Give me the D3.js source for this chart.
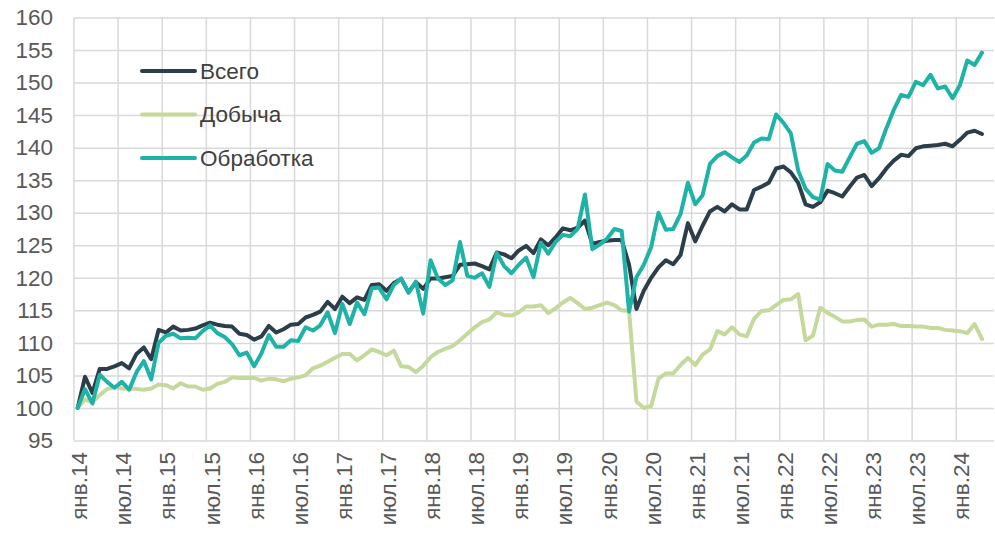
<!DOCTYPE html>
<html>
<head>
<meta charset="utf-8">
<script src="https://cdn.jsdelivr.net/npm/d3@7"></script>
<style>
  body { margin: 0; background: #fff; }
  text { font-family: "Liberation Sans", Arial, sans-serif; }
</style>
</head>
<body>
<div id="chart"></div>
<script>
// month names used to build the category axis (янв.14 ... май.24)
const monthNames = ['янв', 'фев', 'мар', 'апр', 'май', 'июн', 'июл', 'авг', 'сен', 'окт', 'ноя', 'дек'];
const categories = [];
for (let yr = 14; yr <= 24; yr++) {
  monthNames.forEach(m => categories.push(m + '.' + yr));
}
categories.length = 125;

const tickLabels = ['янв.14', 'июл.14', 'янв.15', 'июл.15', 'янв.16', 'июл.16', 'янв.17', 'июл.17',
  'янв.18', 'июл.18', 'янв.19', 'июл.19', 'янв.20', 'июл.20', 'янв.21', 'июл.21', 'янв.22', 'июл.22',
  'янв.23', 'июл.23', 'янв.24'];
const yTicks = [95, 100, 105, 110, 115, 120, 125, 130, 135, 140, 145, 150, 155, 160];

const seriesNames = ['Всего', 'Добыча', 'Обработка'];

const total = [
  100, 104.8, 102.3, 106, 106, 106.4, 106.9, 106.1, 108.3, 109.3, 107.5, 112,
  111.6, 112.5, 111.9, 112, 112.2, 112.7, 113.1, 112.8, 112.6, 112.5, 111.4, 111.2,
  110.5, 111, 112.6, 111.6, 112.1, 112.8, 112.9, 113.9, 114.3, 114.8, 116.3, 115.2,
  117.1, 116.1, 117, 116.6, 118.9, 119, 118, 119.2, 119.8, 117.8, 119.3, 118.3,
  119.9, 119.9, 120.1, 120.3, 122, 122.1, 122.2, 121.8, 121.3, 123.9, 123.6, 123,
  124.2, 124.9, 123.8, 125.9, 125, 126.2, 127.6, 127.3, 127.7, 128.8, 125.2, 125.5,
  125.7, 125.8, 125.8, 122, 115.2, 118, 120, 121.6, 122.7, 122.1, 123.5, 128.4,
  125.6, 128, 130.2, 130.9, 130.2, 131.3, 130.5, 130.5, 133.5, 134, 134.6, 136.8,
  137.1, 136.2, 134.6, 131.3, 130.9, 131.6, 133.4, 133, 132.5, 134, 135.4, 135.8,
  134.1, 135.3, 136.8, 138, 138.9, 138.7, 139.9, 140.2, 140.3, 140.4, 140.6, 140.2,
  141.2, 142.3, 142.6, 142.1
];

const mining = [
  100, 101.3, 100.9, 102, 102.9, 103.2, 103, 103, 102.9, 102.8, 103, 103.6,
  103.5, 103, 103.8, 103.3, 103.3, 102.8, 103, 103.7, 104, 104.7, 104.6, 104.6,
  104.6, 104.2, 104.5, 104.4, 104.1, 104.5, 104.7, 105, 106.1, 106.5, 107.1, 107.7,
  108.3, 108.3, 107.3, 108.1, 109, 108.6, 108.1, 108.8, 106.4, 106.3, 105.5, 106.5,
  107.8, 108.6, 109.1, 109.5, 110.4, 111.4, 112.4, 113.2, 113.6, 114.7, 114.3, 114.2,
  114.7, 115.6, 115.6, 115.8, 114.6, 115.3, 116.2, 116.9, 116.1, 115.2, 115.4, 115.8,
  116.2, 115.8, 115, 114.9, 101, 100, 100.3, 104.5, 105.3, 105.3, 106.6, 107.7,
  106.6, 108.2, 109, 111.8, 111.3, 112.4, 111.3, 111, 113.7, 114.9, 115, 115.8,
  116.6, 116.7, 117.5, 110.4, 111.1, 115.4, 114.6, 114, 113.3, 113.3, 113.5, 113.6,
  112.5, 112.8, 112.8, 112.9, 112.6, 112.6, 112.5, 112.5, 112.3, 112.3, 112, 111.9,
  111.8, 111.5, 112.9, 110.6
];

const manufacturing = [
  100, 102.9, 100.7, 105.1, 104, 103.1, 104, 102.8, 105.5, 107.2, 104.4, 110,
  111.1, 111.4, 110.7, 110.8, 110.7, 111.8, 112.7, 111.5, 110.9, 109.8, 108.1, 108.5,
  106.4, 108.4, 111.2, 109.4, 109.4, 110.4, 110.3, 112.4, 111.9, 112.7, 114.7, 111.5,
  116, 112.9, 116.2, 114.4, 118.4, 118.5, 116.7, 118.9, 119.9, 117.7, 119.4, 114.5,
  122.7, 119.9, 118.9, 119.6, 125.5, 120.3, 120, 120.7, 118.6, 123.8, 121.8, 120.7,
  122, 123.1, 120.1, 125.4, 123.7, 125.5, 126.6, 126.4, 127.5, 132.8, 124.4, 125.1,
  126, 127.5, 127.2, 114.8, 120.1, 122, 124.7, 130, 127.4, 127.5, 129.8, 134.6,
  131.3, 132.7, 137.5, 138.7, 139.3, 138.5, 137.8, 138.8, 140.8, 141.4, 141.3, 145.1,
  143.8, 142.2, 136.5, 133.7, 132.4, 132, 137.5, 136.5, 136.3, 138.5, 140.6, 141,
  139.2, 139.9, 143, 145.8, 148.1, 147.8, 150.1, 149.6, 151.2, 149.1, 149.4, 147.6,
  149.6, 153.4, 152.7, 154.6
];

const colors = ['#2b3e4a', '#c4d99b', '#1fb2a7'];

const config = {
  width: 995,
  height: 533,
  left: 74,
  right: 993,
  top: 17.5,
  bottom: 440.5
};

const svg = d3.select('#chart')
  .append('svg')
  .attr('width', config.width)
  .attr('height', config.height);

const x = d3.scaleBand()
  .domain(categories)
  .range([config.left, config.right])
  .paddingInner(0)
  .paddingOuter(0);

const y = d3.scaleLinear()
  .domain([95, 160])
  .range([config.bottom, config.top]);

// horizontal gridlines + y labels
const yAxis = svg.append('g')
  .attr('transform', `translate(${config.left},0)`)
  .call(d3.axisLeft(y)
    .tickValues(yTicks)
    .tickSize(-(config.width - 1 - config.left))
    .tickPadding(21)
    .tickFormat(d3.format('d')));
yAxis.select('.domain').remove();
yAxis.selectAll('line')
  .attr('stroke', '#d9d9d9')
  .attr('stroke-width', 1.5);
yAxis.selectAll('text')
  .attr('fill', '#595959')
  .style('font-size', '22.5px')
  .style('font-family', '"Liberation Sans", Arial, sans-serif');

// vertical gridlines every six months
const gridIdx = d3.range(0, categories.length, 6);
svg.append('g')
  .selectAll('line')
  .data(gridIdx)
  .enter()
  .append('line')
  .attr('x1', d => x(categories[d]))
  .attr('x2', d => x(categories[d]))
  .attr('y1', config.top)
  .attr('y2', config.bottom)
  .attr('stroke', '#d9d9d9')
  .attr('stroke-width', 1.5);

// x labels, rotated
svg.append('g')
  .selectAll('text')
  .data(tickLabels)
  .enter()
  .append('text')
  .attr('transform', d => `translate(${x(d) + x.bandwidth() / 2 + 2},452) rotate(-90)`)
  .attr('text-anchor', 'end')
  .attr('dominant-baseline', 'central')
  .attr('fill', '#595959')
  .style('font-size', '22.5px')
  .text(d => d);

// lines
const allSeries = [total, mining, manufacturing];
const line = d3.line()
  .x((d, i) => x(categories[i]) + x.bandwidth() / 2)
  .y(d => y(d));

svg.append('g')
  .selectAll('path')
  .data(allSeries)
  .enter()
  .append('path')
  .attr('d', d => line(d))
  .attr('fill', 'none')
  .attr('stroke', (d, i) => colors[i])
  .attr('stroke-width', 4)
  .attr('stroke-linejoin', 'round')
  .attr('stroke-linecap', 'round');

// legend
const legend = svg.append('g')
  .selectAll('g')
  .data(seriesNames)
  .enter()
  .append('g')
  .attr('transform', (d, i) => `translate(142,${71 + i * 43.5})`);
legend.append('line')
  .attr('x1', 0)
  .attr('x2', 53)
  .attr('stroke', (d, i) => colors[i])
  .attr('stroke-width', 4)
  .attr('stroke-linecap', 'round');
legend.append('text')
  .attr('x', 58)
  .attr('dominant-baseline', 'central')
  .attr('fill', '#404040')
  .style('font-size', '22.5px')
  .text(d => d);
</script>
</body>
</html>
